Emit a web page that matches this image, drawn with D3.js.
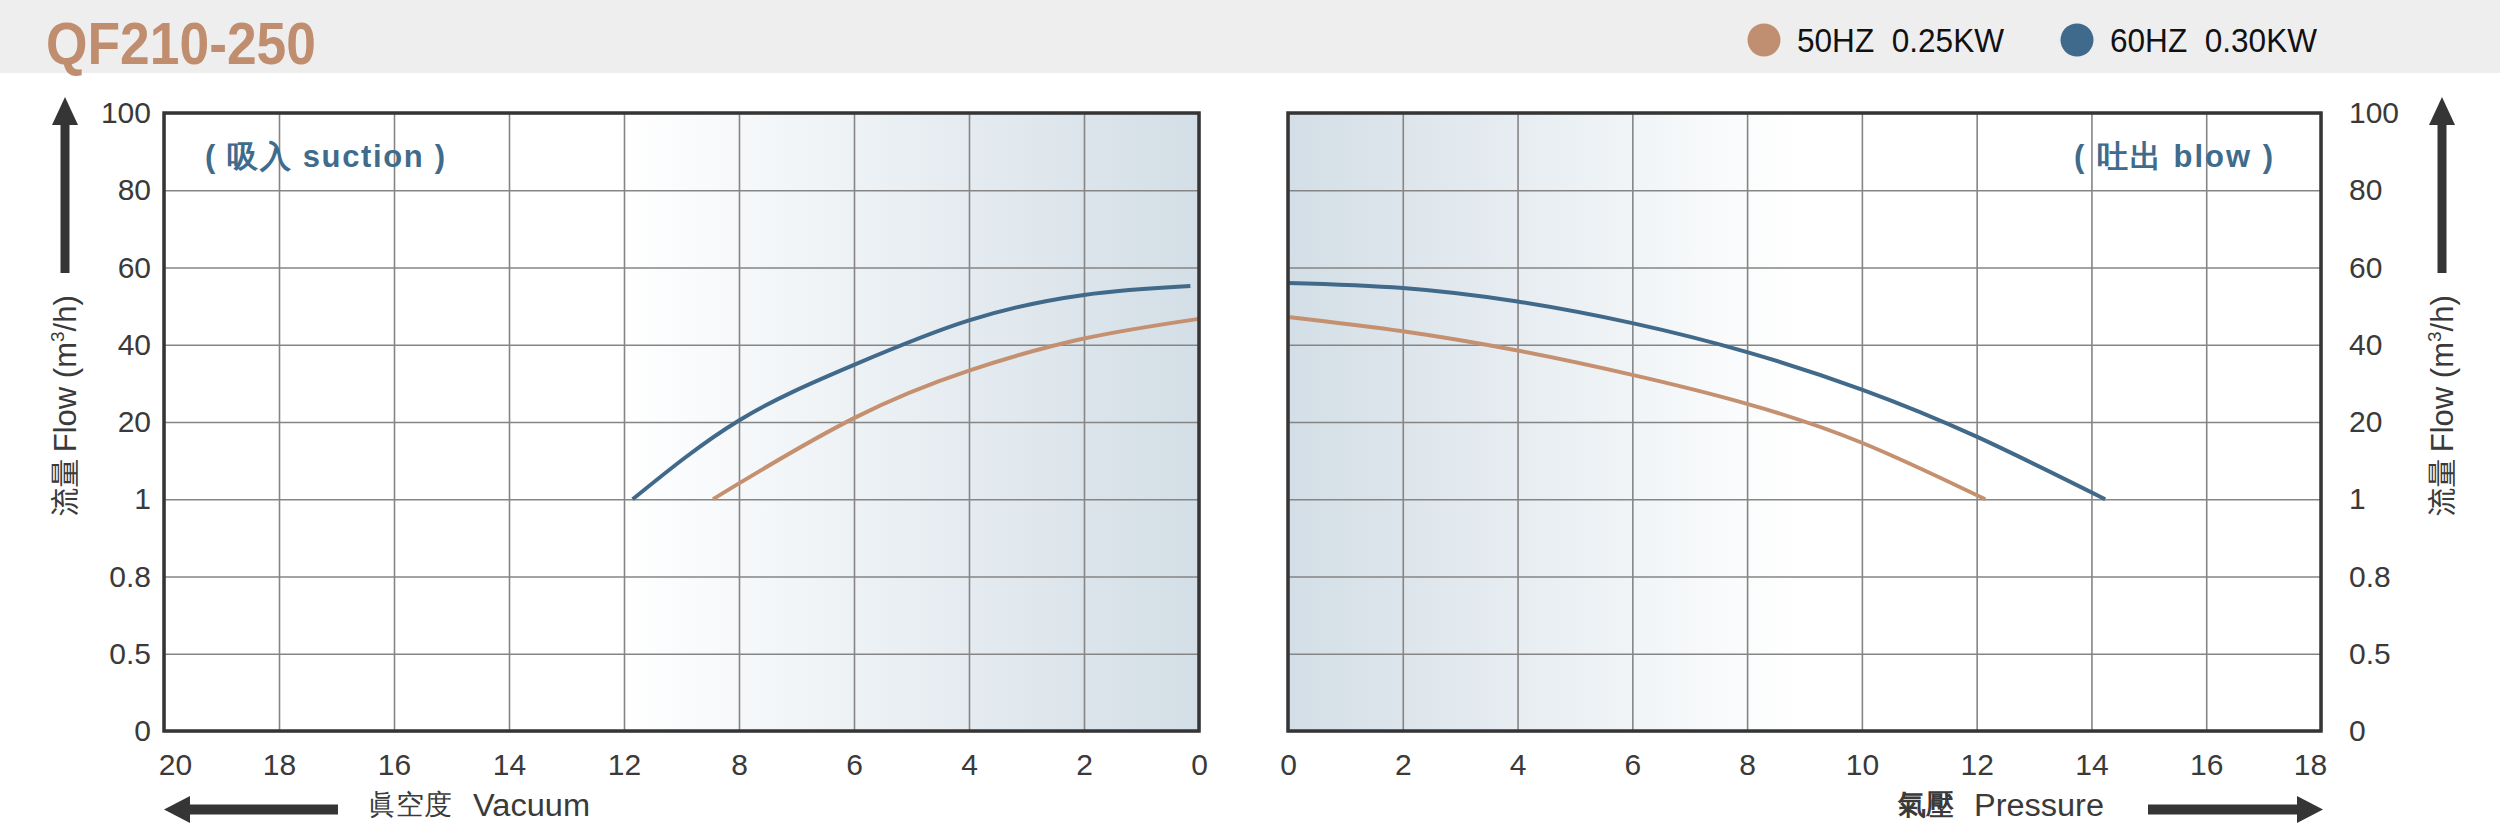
<!DOCTYPE html>
<html>
<head>
<meta charset="utf-8">
<script src="https://cdn.jsdelivr.net/npm/d3@7"></script>
<style>
html,body{margin:0;padding:0;background:#fff;}
svg{display:block;}
text{font-family:"Liberation Sans",Arial,sans-serif;white-space:pre;}
</style>
</head>
<body>
<svg id="chart" width="2500" height="824"></svg>
<script>
// ---------- data ----------
const title = "QF210-250";
const seriesNames = ["50HZ  0.25KW", "60HZ  0.30KW"];
const seriesColors = ["#c4906f", "#41698a"];
const vacuumTicks = [20, 18, 16, 14, 12, 8, 6, 4, 2, 0];
const pressureTicks = [0, 2, 4, 6, 8, 10, 12, 14, 16, 18];
const flowTicks = [0, 0.5, 0.8, 1, 20, 40, 60, 80, 100];
// suction side (vacuum, flow)
const suction50 = [[8.9,1],[8,4.9],[6,21],[4,33.3],[2,41.6],[0,46.7]];
const suction60 = [[11.7,1],[8,20.4],[6,34.8],[4,46.3],[2,52.9],[0.15,55.2]];
// blow side (pressure, flow)
const blow50 = [[0,47.2],[2,43.5],[4,38.5],[6,32.2],[8,24.7],[10,14.9],[12.15,1]];
const blow60 = [[0,56],[2,54.7],[4,51.2],[6,45.6],[8,38.1],[10,28.4],[12,16.4],[14.24,1]];

// ---------- layout ----------
const svg = d3.select("#chart");
const TXT = "#3a3a3a";
const yTop = 113, yBot = 731;
const L = {x0: 164, x1: 1199};
const R = {x0: 1288, x1: 2321};

const evenRange = (n, a, b) => d3.range(n).map(i => a + i * (b - a) / (n - 1));

const yScale = d3.scaleLinear().domain(flowTicks).range(evenRange(flowTicks.length, yBot, yTop));
const xLeft = d3.scaleLinear().domain(vacuumTicks).range(evenRange(vacuumTicks.length, L.x0, L.x1));
const xRight = d3.scaleLinear().domain(pressureTicks).range(evenRange(pressureTicks.length, R.x0, R.x1));

// header band
svg.append("rect").attr("x",0).attr("y",0).attr("width",2500).attr("height",73).attr("fill","#eeeeee");
svg.append("text").attr("x",46).attr("y",64)
  .attr("font-size",59).attr("font-weight","bold").attr("fill","#c08d6f")
  .attr("textLength",270).attr("lengthAdjust","spacingAndGlyphs")
  .text(title);

// legend
const legX = [1764, 2077];
seriesNames.forEach((n,i)=>{
  svg.append("circle").attr("cx",legX[i]).attr("cy",40).attr("r",16.5).attr("fill", i===0 ? "#c08f72" : "#3f6a8b");
  svg.append("text").attr("x",legX[i]+33).attr("y",52).attr("font-size",33).attr("fill","#111")
    .attr("textLength",207).attr("lengthAdjust","spacingAndGlyphs").text(n);
});

// gradients
const defs = svg.append("defs");
const gL = defs.append("linearGradient").attr("id","gL").attr("gradientUnits","userSpaceOnUse")
  .attr("x1",620).attr("x2",L.x1).attr("y1",0).attr("y2",0);
gL.append("stop").attr("offset",0).attr("stop-color","#ffffff");
gL.append("stop").attr("offset",1).attr("stop-color","#d3dee6");
const gR = defs.append("linearGradient").attr("id","gR").attr("gradientUnits","userSpaceOnUse")
  .attr("x1",R.x0).attr("x2",1800).attr("y1",0).attr("y2",0);
gR.append("stop").attr("offset",0).attr("stop-color","#d3dee6");
gR.append("stop").attr("offset",1).attr("stop-color","#ffffff");

function panel(P, xs, grad, curves, side, ticks) {
  const g = svg.append("g");
  g.append("rect").attr("x",P.x0).attr("y",yTop).attr("width",P.x1-P.x0).attr("height",yBot-yTop).attr("fill","url(#"+grad+")");
  // vertical grid
  const vg = g.append("g").attr("transform",`translate(0,${yBot})`)
    .call(d3.axisBottom(xs).tickValues(ticks).tickSize(-(yBot-yTop)).tickFormat(""));
  vg.select(".domain").remove();
  vg.selectAll("line").attr("stroke","#858585").attr("stroke-width",1.6);
  // horizontal grid
  const hg = g.append("g").attr("transform",`translate(${P.x0},0)`)
    .call(d3.axisLeft(yScale).tickValues(flowTicks).tickSize(-(P.x1-P.x0)).tickFormat(""));
  hg.select(".domain").remove();
  hg.selectAll("line").attr("stroke","#858585").attr("stroke-width",1.6);

  // curves
  const line = d3.line().x(d=>xs(d[0])).y(d=>yScale(d[1])).curve(d3.curveNatural);
  curves.forEach((c,i)=>{
    const pts = c.slice().sort((a,b)=>xs(a[0])-xs(b[0]));
    g.append("path").attr("d",line(pts)).attr("fill","none")
      .attr("stroke",seriesColors[i]).attr("stroke-width",4).attr("stroke-linecap","butt");
  });

  // frame
  g.append("rect").attr("x",P.x0).attr("y",yTop).attr("width",P.x1-P.x0).attr("height",yBot-yTop)
    .attr("fill","none").attr("stroke","#353535").attr("stroke-width",3.5);

  // x labels
  const xa = svg.append("g").attr("transform",`translate(0,${yBot})`)
    .call(d3.axisBottom(xs).tickValues(ticks).tickSize(0).tickPadding(0).tickFormat(d3.format("d")));
  xa.select(".domain").remove();
  xa.selectAll("text").attr("font-size",30).attr("fill",TXT).attr("y",44).attr("dy",0)
    .attr("font-family","Liberation Sans, Arial, sans-serif");
  xa.selectAll(".tick").filter((d,i)=> side==="left" ? i===0 : i===ticks.length-1)
    .select("text").attr("x", side==="left" ? 11 : -11);

  // y labels
  const axis = side==="left" ? d3.axisLeft(yScale).tickPadding(13) : d3.axisRight(yScale).tickPadding(28);
  const ya = svg.append("g").attr("transform",`translate(${side==="left"?P.x0:P.x1},0)`)
    .call(axis.tickValues(flowTicks).tickSize(0).tickFormat(d=>String(d)));
  ya.select(".domain").remove();
  ya.selectAll("text").attr("font-size",30).attr("fill",TXT)
    .attr("font-family","Liberation Sans, Arial, sans-serif");
}

panel(L, xLeft, "gL", [suction50, suction60], "left", vacuumTicks);
panel(R, xRight, "gR", [blow50, blow60], "right", pressureTicks);

// panel captions
svg.append("text").attr("x",205).attr("y",167).attr("font-size",31).attr("font-weight",700)
  .attr("fill","#3f6b8c").attr("font-family","Noto Sans CJK SC, sans-serif")
  .attr("textLength",240).attr("lengthAdjust","spacing").text("( 吸入 suction )");
svg.append("text").attr("x",2074).attr("y",167).attr("font-size",31).attr("font-weight",700)
  .attr("fill","#3f6b8c").attr("font-family","Noto Sans CJK SC, sans-serif")
  .attr("textLength",199).attr("lengthAdjust","spacing").text("( 吐出 blow )");

// y axis titles + arrows
function yTitle(cx) {
  const t = svg.append("text").attr("transform",`translate(${cx+11},406) rotate(-90)`)
    .attr("text-anchor","middle").attr("font-size",31).attr("fill",TXT);
  t.append("tspan").attr("font-family","Noto Sans CJK SC, sans-serif").attr("font-size",29).text("流量 ");
  t.append("tspan").text("Flow (m");
  t.append("tspan").attr("font-size",19).attr("dy",-12).text("3");
  t.append("tspan").attr("dy",12).text("/h)");
  // arrow up
  svg.append("rect").attr("x",cx-4.5).attr("y",122).attr("width",9).attr("height",151).attr("fill","#353535");
  svg.append("path").attr("d",`M${cx},97 L${cx-13},125 L${cx+13},125 Z`).attr("fill","#353535");
}
yTitle(65);
yTitle(2442);

// x axis titles + arrows
svg.append("text").attr("x",368).attr("y",814).attr("fill",TXT)
  .attr("font-family","Noto Sans CJK TC, sans-serif").attr("font-size",28).text("眞空度");
svg.append("text").attr("x",473).attr("y",816).attr("fill",TXT)
  .attr("font-size",31).attr("textLength",117).attr("lengthAdjust","spacingAndGlyphs").text("Vacuum");
svg.append("rect").attr("x",188).attr("y",804.5).attr("width",150).attr("height",10).attr("fill","#353535");
svg.append("path").attr("d","M164,809.5 L190,796 L190,823 Z").attr("fill","#353535");

svg.append("text").attr("x",1898).attr("y",814).attr("fill",TXT)
  .attr("font-family","Noto Sans CJK TC, sans-serif").attr("font-weight",700).attr("font-size",28).text("氣壓");
svg.append("text").attr("x",1974).attr("y",816).attr("fill",TXT)
  .attr("font-size",31).attr("textLength",130).attr("lengthAdjust","spacingAndGlyphs").text("Pressure");
svg.append("rect").attr("x",2148).attr("y",804.5).attr("width",150).attr("height",10).attr("fill","#353535");
svg.append("path").attr("d","M2323,809.5 L2297,796 L2297,823 Z").attr("fill","#353535");
</script>
</body>
</html>
